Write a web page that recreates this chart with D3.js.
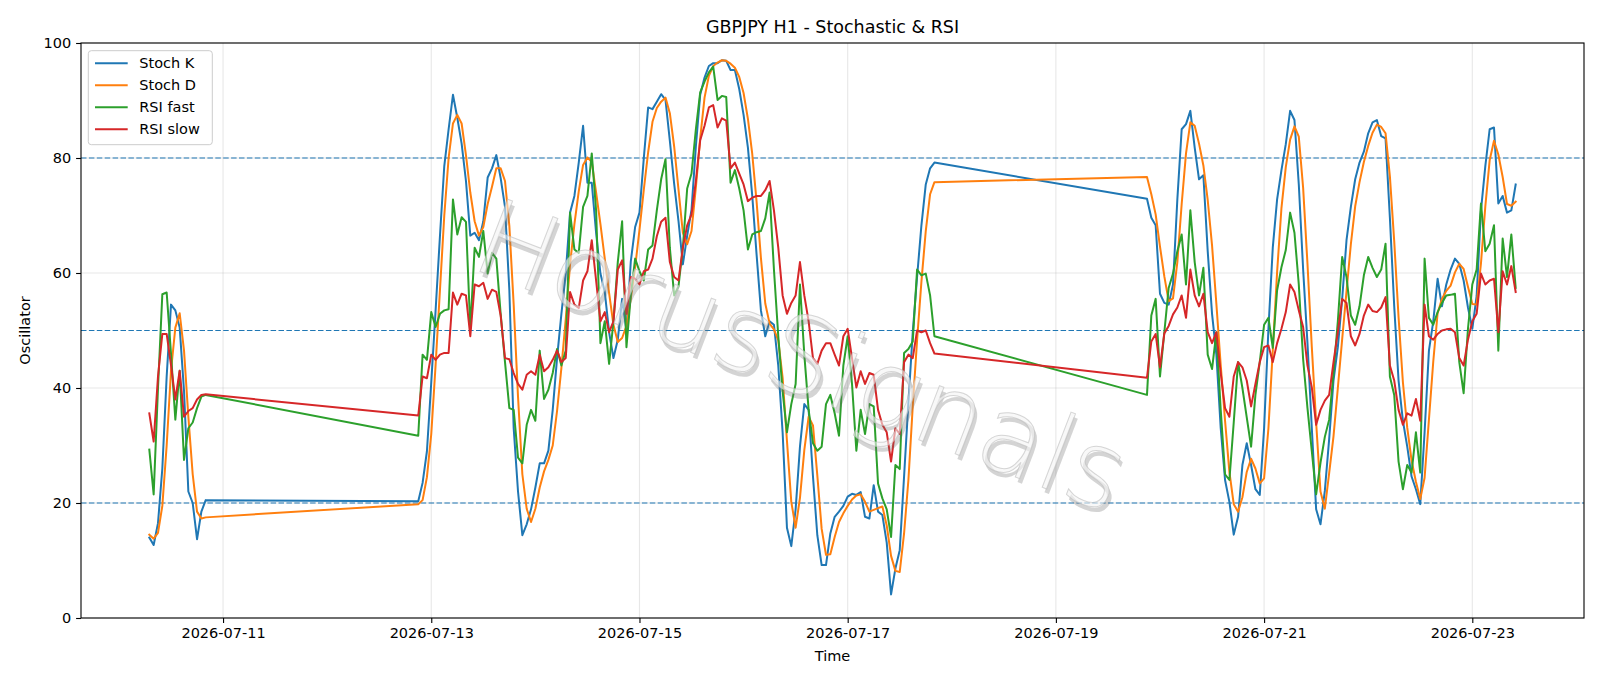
<!DOCTYPE html>
<html>
<head>
<meta charset="utf-8">
<script src="https://cdn.jsdelivr.net/npm/d3@7"></script>
<style>
  html, body { margin: 0; padding: 0; background: #fff; }
  svg { display: block; font-family: "DejaVu Sans", sans-serif; }
</style>
</head>
<body>
<div id="container"></div>
<script>
// hourly sessions: [start, number of hourly bars]
const sessions = [
  ["2026-07-10T07:00:00Z", 14],
  ["2026-07-12T21:00:00Z", 120],
  ["2026-07-19T21:00:00Z", 86]
];

const stochK = [
  14, 12.7, 16.5, 26, 42, 54.5, 53.5, 50.5, 39.5, 22, 20, 13.7, 18.5, 20.5,
  20.3, 23.5, 29, 41, 53.5, 66.4, 78.6, 85, 91, 87, 82.5, 76, 66.5, 67, 65.7, 69, 76.6, 78.2, 80.5, 76.5, 71.5, 57, 33,
  22, 14.4, 16.3, 18.9, 22.7, 26.9, 26.9, 29.1, 36.2, 45.2, 52.9, 59.9, 70.5, 73.4, 79.2, 85.6, 75.7, 75.7, 67, 59.9, 56.7, 49.7, 45.2, 48.4,
  55.5, 50, 62, 68, 70.5, 80, 88.8, 88.5, 89.8, 91.1, 90.1, 83, 75.5, 69, 61.5, 66.5, 71, 82, 91, 94, 96, 96.5, 96.5, 97,
  96.9, 95.3, 95.3, 92, 87.5, 81.8, 73.4, 63.2, 53.5, 49, 51.6, 51, 43.9, 32.3, 15.7, 12.5, 18.9, 29.8, 37.2, 36.2, 24.6, 14.4, 9.2, 9.2,
  14.7, 17.6, 18.5, 19.5, 21.1, 21.6, 21.4, 21.9, 17.6, 17.3, 23.1, 18.5, 17.9, 13.1, 4.1, 8.6, 11.8, 24.6, 37.5, 49.7, 59.3, 68.3, 75.4, 78.2, 79.2,
  72.9, 69.6, 68.3, 56.4, 54.8, 54.5, 58, 72.8, 85, 85.9, 88.2, 81.8, 76.3, 77, 63.8, 52.9, 45.8, 33, 24, 20.2, 14.5,
  17.6, 26.6, 30.4, 26.6, 22.4, 21.4, 33, 50.3, 64.4, 72.8, 77.9, 82.4, 88.2, 86.6, 75.4, 60.6, 47.8, 33, 18.9, 16.3, 22.1, 31.1,
  41.3, 47.1, 55.5, 65.7, 71.5, 76.3, 79.2, 81.1, 84.3, 86.2, 86.6, 83.8, 83.4, 69.6, 54.2, 41.3, 34.3, 29.8, 24.6, 22.4, 19.8, 32.3,
  46.5, 51.6, 59, 54.2, 58, 60.6, 62.5, 61.6, 58.7, 54, 50.3, 56, 70.9, 78.6, 85, 85.3, 72.1, 73.4, 70.5, 70.9, 75.4
];

const stochD = [
  14.5, 13.8, 14.8, 19.5, 30, 43, 50.5, 53, 46.5, 35, 25, 18.5, 17.3, 17.5,
  19.8, 20.5, 24.5, 32, 44, 57, 70, 80, 86, 87.5, 86, 80.5, 74, 69, 66.5, 68, 72, 75, 78.2, 78.2, 76, 68.2, 54.5,
  38.5, 25, 19, 16.7, 19, 22.7, 25.5, 27.5, 30, 36, 43.5, 52, 61.5, 68.5, 74.2, 78.8, 80.1, 79.3, 74, 68.5, 62.5, 56.5, 51, 48,
  48.7, 50.8, 55.6, 61, 67.5, 74.5, 81, 86.3, 88.7, 89.8, 90.5, 87.8, 82, 74.5, 67, 65, 67.3, 74.9, 83.4, 90.5, 94.3, 96, 96.6, 97,
  96.9, 96.4, 95.7, 94.1, 91.3, 86.8, 80.7, 72.4, 62.6, 54.7, 51.2, 50.2, 48.3, 41.8, 30.8, 20.2, 15.7, 20.9, 29.2, 35, 33.5, 24.8, 15.5, 11,
  11.1, 14.1, 16.7, 18.2, 19.5, 20.6, 21.3, 21.5, 20.2, 18.5, 18.8, 19.1, 19.4, 16.1, 10.8, 8.2, 8, 14.7, 24, 36.8, 48.3, 58.5, 67.3, 73.7, 75.8,
  76.7, 73.7, 70.2, 64.6, 59.4, 55.1, 55.6, 61.9, 72, 80.8, 86.2, 85.6, 82.5, 78.7, 72.7, 64.8, 54.6, 44, 34.3, 25.4, 19.8,
  18.5, 21, 25.4, 27.7, 26, 23.4, 24.3, 33, 46.5, 60.2, 71.3, 78.4, 83.2, 85.5, 83.7, 74.8, 61.6, 47.1, 34, 22, 19, 25.2,
  31.6, 40, 48.5, 56.8, 65, 71.6, 75.8, 79.3, 82.1, 84.4, 85.8, 85.4, 84.3, 76.8, 65.5, 52.3, 41, 33.1, 27.4, 23.7, 20.7, 24.4,
  34.5, 44.6, 53, 55.5, 56.9, 57.8, 60.1, 61.6, 60.7, 57.6, 54.6, 54.5, 61.7, 71.6, 79.6, 83, 80.6, 76.7, 72, 71.7, 72.4
];

const rsiFast = [
  29.3, 21.5, 40, 56.3, 56.6, 46, 34.5, 43, 27.5, 33, 34, 36.5, 38.5, 38.8,
  31.7, 45.8, 44.9, 53.2, 50.6, 52.9, 53.5, 53.7, 72.8, 66.7, 69.7, 68.9, 50.3, 64.4, 62.8, 67.3, 59.9, 63.5, 62.5, 52.9, 44.5, 36.5, 36.2,
  27.9, 26.9, 33.6, 36.2, 34.3, 46.5, 38.1, 39.7, 42.6, 46.8, 43.9, 46.5, 70.5, 64.1, 63.5, 71.5, 73.4, 80.8, 70.9, 47.8, 51.6, 44.2, 51.6, 61.9,
  69, 47.1, 56.1, 62.5, 60.3, 58.7, 64.1, 64.8, 70.9, 76.3, 79.8, 64.4, 56.1, 57.7, 64.4, 74.7, 77.3, 85, 91.4, 93.3, 94.9, 95.9, 90.1, 90.8,
  90.6, 75.7, 77.9, 74.7, 70.9, 64.1, 66.7, 67.1, 67.3, 69.5, 74, 60.6, 49, 39.4, 32.3, 37.2, 40.7, 58, 45.8, 36.2, 30.4, 29.1, 29.8, 37.2,
  38.8, 35.6, 31.7, 43.9, 49, 40.7, 29.1, 36.2, 32, 37.2, 36.8, 23.4, 20.8, 18.9, 14.1, 26.6, 25.9, 46.1, 46.8, 48.1, 60.6, 59.6, 59.9, 56.1, 49,
  38.8, 52.6, 55.5, 42, 49.7, 57.4, 59.9, 63.8, 66.7, 58, 70.9, 61.9, 56.1, 60.9, 45.8, 43.3, 49.7, 36.2, 25, 24, 34,
  44.5, 40, 34.9, 29.8, 38.8, 44.5, 51, 52.2, 47, 57, 61, 64, 70.5, 67, 58, 45, 36.5, 29, 21.5, 27, 31.5, 34.5,
  42.6, 51.6, 62.8, 59.3, 52.6, 51, 54.2, 59.6, 62.8, 60.9, 59.3, 60.6, 65.1, 42, 38.8, 27.2, 22.4, 26.6, 25.3, 32.3, 25.3, 62.5,
  52.2, 51, 53.2, 54.8, 56.1, 56.2, 56.4, 44.5, 39.1, 50.3, 58, 60.6, 72.1, 63.8, 65.1, 68.3, 46.5, 66, 59.3, 66.7, 57.4
];

const rsiSlow = [
  35.6, 30.7, 42, 49.4, 49.4, 44, 38, 43, 35, 36, 36.5, 38, 38.8, 38.9,
  35.2, 42, 41.7, 45.8, 44.9, 45.8, 46.1, 46.1, 56.6, 54.5, 56.4, 56.1, 49, 58, 57.7, 58.3, 55.5, 57.1, 56.7, 52.6, 45.2, 45, 42.6,
  40.7, 39.7, 42.3, 42.9, 42.3, 45.8, 42.9, 43.6, 44.9, 46.5, 44.5, 45.2, 56.7, 54.5, 53.9, 58.7, 60.3, 65.7, 58.7, 51.6, 53.2, 49.7, 51.6, 60.6,
  62.2, 52.9, 59.3, 59, 58, 60.3, 60.6, 62.5, 66.4, 68.9, 69.6, 61.9, 59.3, 58.7, 64.4, 68.3, 70.2, 76, 83.1, 85.6, 88.8, 89.2, 85.3, 86.9,
  86.5, 78.2, 79.2, 77.3, 75.4, 72.5, 73.1, 73.4, 73.4, 74.4, 76, 70.9, 64.4, 56.1, 52.9, 54.8, 56.1, 61.9, 56.1, 51.6, 45.2, 44.2, 46.5, 47.8,
  47.8, 45.8, 43.9, 49, 50.3, 45.2, 40.1, 42.9, 40.7, 42.6, 42.3, 36.2, 33.6, 32.3, 27.2, 33, 32, 44.5, 45.8, 45.2, 50, 49.7, 50, 47.8, 46,
  41.8, 48.1, 49.4, 43.6, 49.5, 50.8, 52.8, 54, 56.1, 52.2, 60.6, 56.1, 54.2, 56.4, 49.7, 47.8, 49.7, 42.6, 36.5, 35, 42,
  44.5, 43.6, 41.3, 36.8, 40.7, 44.5, 47.1, 47.4, 44.5, 47.8, 50.3, 53.2, 58, 56.7, 53.5, 50.6, 43.9, 40.1, 33.6, 36.2, 37.8, 38.8,
  44.5, 49.7, 55.5, 54.8, 49, 47.4, 49.4, 52.6, 54.5, 53.4, 53.2, 54, 55.8, 43.9, 41.3, 36.2, 33.6, 35.6, 35.2, 38.1, 34.3, 54.5,
  49, 48.4, 49.4, 50, 50.2, 50.3, 49.7, 45.2, 43.9, 48.4, 51.6, 52.9, 59.9, 58, 58.7, 59, 49.7, 60.3, 58, 61.2, 56.7
];

const seriesNames = ["Stoch K", "Stoch D", "RSI fast", "RSI slow"];
const seriesColors = ["#1f77b4", "#ff7f0e", "#2ca02c", "#d62728"];
const guideLevels = [20, 50, 80];
const yTicks = [0, 20, 40, 60, 80, 100];

const width = 1600, height = 686;
const margin = { top: 43, right: 16, bottom: 68, left: 81 };
const innerW = width - margin.left - margin.right;
const innerH = height - margin.top - margin.bottom;

// time of each hourly bar
const times = [];
sessions.forEach(([start, n]) => {
  const t0 = new Date(start);
  for (let i = 0; i < n; i++) times.push(d3.utcHour.offset(t0, i));
});

const seriesValues = [stochK, stochD, rsiFast, rsiSlow];
const series = seriesNames.map((name, i) => ({
  name: name,
  color: seriesColors[i],
  points: seriesValues[i].map((v, k) => ({ t: times[k], v: v }))
}));

const tFirst = times[0], tLast = times[times.length - 1];
const pad = (tLast - tFirst) * 0.05;
const x = d3.scaleUtc()
  .domain([new Date(+tFirst - pad), new Date(+tLast + pad)])
  .range([margin.left, margin.left + innerW]);
const y = d3.scaleLinear().domain([0, 100]).range([margin.top + innerH, margin.top]);

const svg = d3.select("#container").append("svg")
  .attr("width", width).attr("height", height);

svg.append("rect").attr("width", width).attr("height", height).attr("fill", "#fff");

const xTickVals = d3.utcDay.every(2).range(x.domain()[0], x.domain()[1]);

// grid
const grid = svg.append("g");
grid.selectAll(".gx").data(xTickVals).join("line")
  .attr("x1", d => x(d)).attr("x2", d => x(d))
  .attr("y1", margin.top).attr("y2", margin.top + innerH)
  .attr("stroke", "#b0b0b0").attr("stroke-opacity", 0.3).attr("stroke-width", 1.1);
grid.selectAll(".gy").data(yTicks).join("line")
  .attr("x1", margin.left).attr("x2", margin.left + innerW)
  .attr("y1", d => y(d)).attr("y2", d => y(d))
  .attr("stroke", "#b0b0b0").attr("stroke-opacity", 0.3).attr("stroke-width", 1.1);

// guide levels
svg.append("g").selectAll("line").data(guideLevels).join("line")
  .attr("x1", margin.left).attr("x2", margin.left + innerW)
  .attr("y1", d => y(d)).attr("y2", d => y(d))
  .attr("stroke", "#1f77b4").attr("stroke-width", 1.2)
  .attr("stroke-dasharray", "5.5,2.4");

// series lines
const line = d3.line().x(d => x(d.t)).y(d => y(d.v));
svg.append("clipPath").attr("id", "plotclip").append("rect")
  .attr("x", margin.left).attr("y", margin.top).attr("width", innerW).attr("height", innerH);
svg.append("g").attr("clip-path", "url(#plotclip)")
  .selectAll("path").data(series).join("path")
  .attr("d", d => line(d.points))
  .attr("fill", "none")
  .attr("stroke", d => d.color)
  .attr("stroke-width", 2)
  .attr("stroke-linejoin", "round")
  .attr("stroke-linecap", "square");

// watermark
const wm = svg.append("g")
  .attr("transform", "translate(802,356) rotate(21)")
  .style("font-size", "106px")
  .style("font-weight", 200)
  .attr("text-anchor", "middle")
  .attr("dominant-baseline", "central");
wm.append("text").text("HorusSignals")
  .attr("x", 4).attr("y", 4)
  .attr("fill", "#707070").attr("fill-opacity", 0.3);
wm.append("text").text("HorusSignals")
  .attr("fill", "#f4f4f4").attr("fill-opacity", 0.6)
  .attr("stroke", "#bdbdbd").attr("stroke-width", 1).attr("stroke-opacity", 0.6);

// axes
const xAxis = svg.append("g")
  .attr("transform", `translate(0,${margin.top + innerH})`)
  .call(d3.axisBottom(x).tickValues(xTickVals).tickFormat(d3.utcFormat("%Y-%m-%d"))
    .tickSize(4.9).tickPadding(4.9));
const yAxis = svg.append("g")
  .attr("transform", `translate(${margin.left},0)`)
  .call(d3.axisLeft(y).tickValues(yTicks).tickSize(4.9).tickPadding(4.9));
[xAxis, yAxis].forEach(a => {
  a.select(".domain").remove();
  a.selectAll("text").attr("fill", "#000").style("font-size", "14.5px")
    .style("font-family", "DejaVu Sans, sans-serif");
  a.selectAll("line").attr("stroke", "#000").attr("stroke-width", 1.1);
});

// frame
svg.append("rect")
  .attr("x", margin.left).attr("y", margin.top)
  .attr("width", innerW).attr("height", innerH)
  .attr("fill", "none").attr("stroke", "#000").attr("stroke-width", 1.1);

// labels
svg.append("text").text("GBPJPY H1 - Stochastic & RSI")
  .attr("x", margin.left + innerW / 2).attr("y", 27)
  .attr("text-anchor", "middle").attr("dominant-baseline", "central")
  .style("font-size", "17.5px");
svg.append("text").text("Time")
  .attr("x", margin.left + innerW / 2).attr("y", 656)
  .attr("text-anchor", "middle").attr("dominant-baseline", "central")
  .style("font-size", "14.5px");
svg.append("text").text("Oscillator")
  .attr("transform", `translate(25,${margin.top + innerH / 2}) rotate(-90)`)
  .attr("text-anchor", "middle").attr("dominant-baseline", "central")
  .style("font-size", "14.5px");

// legend
const lg = svg.append("g");
lg.append("rect")
  .attr("x", 88.3).attr("y", 50.7).attr("width", 124).attr("height", 94)
  .attr("rx", 3).attr("fill", "#fff").attr("fill-opacity", 0.8)
  .attr("stroke", "#cccccc").attr("stroke-width", 1);
const rows = lg.selectAll("g.row").data(series).join("g")
  .attr("transform", (d, i) => `translate(0,${63.3 + i * 22})`);
rows.append("line")
  .attr("x1", 95).attr("x2", 127.7)
  .attr("stroke", d => d.color).attr("stroke-width", 2);
rows.append("text").text(d => d.name)
  .attr("x", 139.3).attr("dominant-baseline", "central")
  .style("font-size", "14.5px");
</script>
</body>
</html>
